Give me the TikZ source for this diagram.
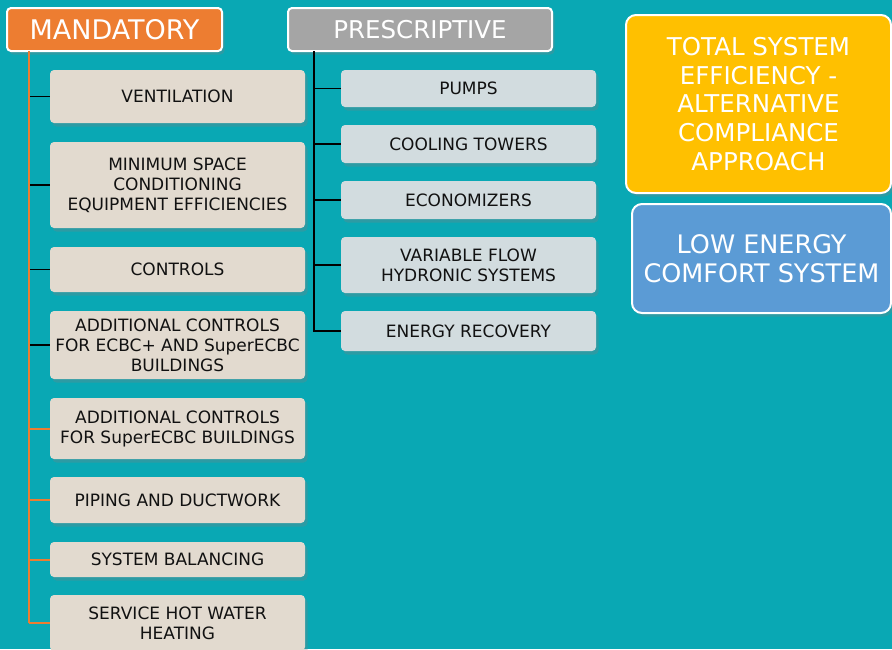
\documentclass[tikz,border=0pt]{standalone}
\usepackage{fontspec}
\setmainfont{DejaVu Sans}
\usetikzlibrary{shadows}
\definecolor{bg}{HTML}{09A8B4}
\definecolor{mandc}{HTML}{ED7D31}
\definecolor{presc}{HTML}{A5A5A5}
\definecolor{yel}{HTML}{FFC000}
\definecolor{blu}{HTML}{5B9BD5}
\definecolor{beige}{HTML}{E2DACF}
\definecolor{lgray}{HTML}{D2DCDF}
\definecolor{txt}{HTML}{111111}
\begin{document}
\begin{tikzpicture}[x=1pt,y=-1pt,
  sh/.style={drop shadow={opacity=0.3,shadow xshift=2.5pt,shadow yshift=-3.5pt}},
  titlebox/.style={draw=white,line width=2pt,rounded corners=4pt,text=white,
    font=\fontsize{26}{30}\selectfont,minimum height=43pt,inner sep=0pt,sh},
  lbox/.style={fill=beige,rounded corners=4pt,minimum width=255pt,inner sep=0pt,
    text=txt,align=center,font=\fontsize{17}{20}\selectfont,sh},
  rbox/.style={lbox,fill=lgray},
  bigbox/.style={draw=white,line width=2pt,rounded corners=10pt,text=white,align=center,
    font=\fontsize{24.5}{28.8}\selectfont,inner sep=0pt,sh},
  blk/.style={draw=black,line width=1.4pt},
  org/.style={draw=mandc,line width=2pt}]
\fill[bg] (0,0) rectangle (892,649);
\useasboundingbox (0,0) rectangle (892,649);

\node[titlebox,fill=mandc,minimum width=215pt,font=\fontsize{27}{30}\selectfont] (mand) at (114.5,29.5) {MANDATORY};
\node[titlebox,fill=presc,minimum width=264pt,font=\fontsize{24.5}{30}\selectfont] (presc) at (420,29.5) {PRESCRIPTIVE};

\node[lbox,minimum height=53pt] (vent) at (177.5,96.5) {VENTILATION};
\node[lbox,minimum height=86pt] (minsp) at (177.5,185) {MINIMUM SPACE\\CONDITIONING\\EQUIPMENT EFFICIENCIES};
\node[lbox,minimum height=45pt] (ctrl) at (177.5,269.5) {CONTROLS};
\node[lbox,minimum height=68pt] (ecbcp) at (177.5,345) {ADDITIONAL CONTROLS\\FOR ECBC+ AND SuperECBC\\BUILDINGS};
\node[lbox,minimum height=61pt] (secbc) at (177.5,428.5) {ADDITIONAL CONTROLS\\FOR SuperECBC BUILDINGS};
\node[lbox,minimum height=46pt] (pipe) at (177.5,500) {PIPING AND DUCTWORK};
\node[lbox,minimum height=35pt] (bal) at (177.5,559.5) {SYSTEM BALANCING};
\node[lbox,minimum height=56pt] (shw) at (177.5,623) {SERVICE HOT WATER\\HEATING};

\node[rbox,minimum height=37pt] (pumps) at (468.5,88.5) {PUMPS};
\node[rbox,minimum height=38pt] (cool) at (468.5,144) {COOLING TOWERS};
\node[rbox,minimum height=38pt] (econ) at (468.5,200) {ECONOMIZERS};
\node[rbox,minimum height=56pt] (vflow) at (468.5,265) {VARIABLE FLOW\\HYDRONIC SYSTEMS};
\node[rbox,minimum height=40pt] (erec) at (468.5,331) {ENERGY RECOVERY};

\node[bigbox,fill=yel,minimum width=265pt,minimum height=178pt] (tse) at (758.5,104)
  {TOTAL SYSTEM\\EFFICIENCY -\\ALTERNATIVE\\COMPLIANCE\\APPROACH};
\node[bigbox,fill=blu,minimum width=259pt,minimum height=109pt,font=\fontsize{25.5}{28.8}\selectfont] (lecs) at (761.5,258.5)
  {LOW ENERGY\\COMFORT SYSTEM};

\coordinate (mv) at (28.5,51);
\coordinate (pv) at (314,51);

\draw[blk] (mv |- vent.west) -- (vent.west);
\draw[blk] (mv |- minsp.west) -- (minsp.west);
\draw[blk] (mv |- ctrl.west) -- (ctrl.west);
\draw[blk] (mv |- ecbcp.west) -- (ecbcp.west);
\draw[org] (mv |- secbc.west) -- (secbc.west);
\draw[org] (mv |- pipe.west) -- (pipe.west);
\draw[org] (mv |- bal.west) -- (bal.west);
\draw[org] (mv |- shw.west) -- (shw.west);
\draw[org] (mv) -- (mv |- shw.west);

\draw[blk] (pv) -- (pv |- erec.west) -- (erec.west);
\draw[blk] (pv |- pumps.west) -- (pumps.west);
\draw[blk] (pv |- cool.west) -- (cool.west);
\draw[blk] (pv |- econ.west) -- (econ.west);
\draw[blk] (pv |- vflow.west) -- (vflow.west);
\end{tikzpicture}
\end{document}
